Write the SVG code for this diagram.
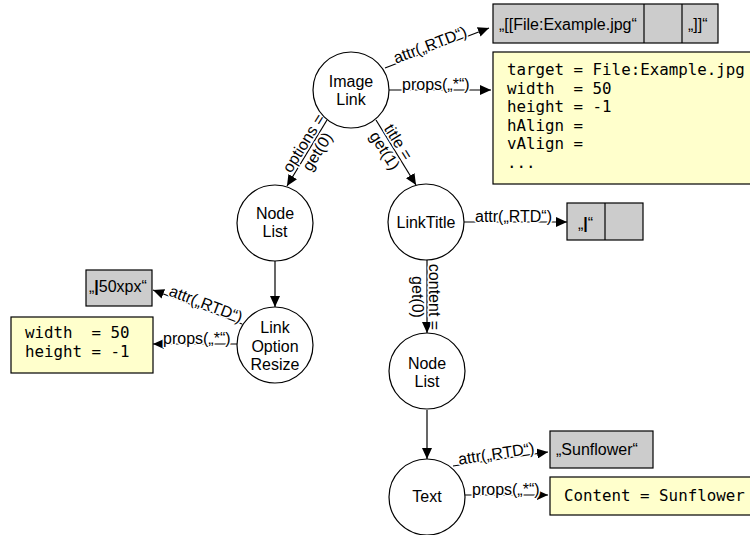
<svg xmlns="http://www.w3.org/2000/svg" width="750" height="535" viewBox="0 0 750 535">
<defs>
<marker id="arr" viewBox="0 0 11 10" refX="11" refY="5" markerWidth="11" markerHeight="10" markerUnits="userSpaceOnUse" orient="auto">
<path d="M0,0 L11,5 L0,10 z" fill="#000"/>
</marker>
<style>
.node circle{fill:#fff;stroke:#000;stroke-width:1.2}
.nt{font-family:"Liberation Sans",Arial,sans-serif;font-size:16px;text-anchor:middle;fill:#000}
.edge{stroke:#000;stroke-width:1.2;fill:none;marker-end:url(#arr)}
.lbl{font-family:"Liberation Sans",Arial,sans-serif;font-size:16px;fill:#000;stroke:#fff;stroke-width:3;paint-order:stroke;stroke-linejoin:round}
.mid{text-anchor:middle}
.gray{fill:#cccccc;stroke:#000;stroke-width:1.2}
.yel{fill:#ffffcc;stroke:#000;stroke-width:1.2}
.bt{font-family:"Liberation Sans",Arial,sans-serif;font-size:16px;fill:#000}
.mono{font-family:"DejaVu Sans Mono","Liberation Mono",monospace;font-size:15.8px;fill:#000}
</style>
</defs>
<rect width="750" height="535" fill="#fff"/>

<g id="connectors">
<path class="edge" d="M385,68 L489,28"/>
<path class="edge" d="M389,90 L491,90"/>
<path class="edge" d="M327,120 L287,186"/>
<path class="edge" d="M376,120 L416,185"/>
<path class="edge" d="M275,261 L275,307"/>
<path class="edge" d="M242,324 L153,290"/>
<path class="edge" d="M237,344 L153,344"/>
<path class="edge" d="M464,222 L567,222"/>
<path class="edge" d="M427,260 L427,333"/>
<path class="edge" d="M427,410 L427,459"/>
<path class="edge" d="M453,466 L548,452"/>
<path class="edge" d="M465,495 L548,495"/>
<text class="lbl mid" transform="translate(432,50) rotate(-21)" y="0">attr(„RTD“)</text>
<text class="lbl" x="402" y="90">props(„*“)</text>
<g transform="translate(310,147) rotate(-58)">
<text class="lbl mid" y="-2">options =</text>
<text class="lbl mid" y="14">get(0)</text>
</g>
<g transform="translate(392,146) rotate(58)">
<text class="lbl mid" y="-2">title =</text>
<text class="lbl mid" y="14">get(1)</text>
</g>
<text class="lbl mid" transform="translate(204,309) rotate(21)" y="0">attr(„RTD“)</text>
<text class="lbl" x="163" y="344">props(„*“)</text>
<text class="lbl" x="475" y="222">attr(„RTD“)</text>
<g transform="translate(427,297) rotate(90)">
<text class="lbl mid" y="-2">content =</text>
<text class="lbl mid" y="15">get(0)</text>
</g>
<text class="lbl mid" transform="translate(497,459) rotate(-8.5)" y="0">attr(„RTD“)</text>
<text class="lbl" x="472" y="495">props(„*“)</text>
</g>

<g id="imagelink" class="node">
<circle cx="351" cy="90" r="38"/>
<text class="nt" x="351" y="87">Image</text>
<text class="nt" x="351" y="105">Link</text>
</g>
<g id="nodelist1" class="node">
<circle cx="275" cy="223" r="38"/>
<text class="nt" x="275" y="219">Node</text>
<text class="nt" x="275" y="237">List</text>
</g>
<g id="linkoptionresize" class="node">
<circle cx="275" cy="345" r="38"/>
<text class="nt" x="275" y="333">Link</text>
<text class="nt" x="275" y="351.5">Option</text>
<text class="nt" x="275" y="370">Resize</text>
</g>
<g id="linktitle" class="node">
<circle cx="426" cy="222" r="38"/>
<text class="nt" x="426" y="228">LinkTitle</text>
</g>
<g id="nodelist2" class="node">
<circle cx="427" cy="371" r="38"/>
<text class="nt" x="427" y="369">Node</text>
<text class="nt" x="427" y="387">List</text>
</g>
<g id="text" class="node">
<circle cx="427" cy="497" r="38"/>
<text class="nt" x="427" y="502">Text</text>
</g>

<g id="rtd-imagelink">
<rect class="gray" x="493" y="4" width="225" height="39"/>
<line x1="644" y1="4" x2="644" y2="43" stroke="#000" stroke-width="1.2"/>
<line x1="682" y1="4" x2="682" y2="43" stroke="#000" stroke-width="1.2"/>
<text class="bt" x="499" y="30">„[[File:Example.jpg“</text>
<text class="bt" x="688" y="30">„]]“</text>
</g>
<g id="props-imagelink">
<rect class="yel" x="493" y="52" width="262" height="132"/>
<text class="mono" x="507" y="75" xml:space="preserve">target = File:Example.jpg</text>
<text class="mono" x="507" y="93.5" xml:space="preserve">width  = 50</text>
<text class="mono" x="507" y="112" xml:space="preserve">height = -1</text>
<text class="mono" x="507" y="130.5" xml:space="preserve">hAlign =</text>
<text class="mono" x="507" y="149" xml:space="preserve">vAlign =</text>
<text class="mono" x="507" y="167.5" xml:space="preserve">...</text>
</g>
<g id="rtd-linktitle">
<rect class="gray" x="567" y="203" width="76" height="37"/>
<line x1="605" y1="203" x2="605" y2="240" stroke="#000" stroke-width="1.2"/>
<text class="bt" x="578" y="229">„<tspan font-weight="bold">|</tspan>“</text>
</g>
<g id="rtd-resize">
<rect class="gray" x="86" y="270" width="66" height="36"/>
<text class="bt" x="89" y="292">„<tspan font-weight="bold">|</tspan>50xpx“</text>
</g>
<g id="props-resize">
<rect class="yel" x="11" y="317" width="142" height="56"/>
<text class="mono" x="25" y="338" xml:space="preserve">width  = 50</text>
<text class="mono" x="25" y="357" xml:space="preserve">height = -1</text>
</g>
<g id="rtd-text">
<rect class="gray" x="550" y="431" width="103" height="37"/>
<text class="bt" x="556" y="455">„Sunflower“</text>
</g>
<g id="props-text">
<rect class="yel" x="550" y="477" width="210" height="38"/>
<text class="mono" x="564" y="501">Content = Sunflower</text>
</g>
</svg>
